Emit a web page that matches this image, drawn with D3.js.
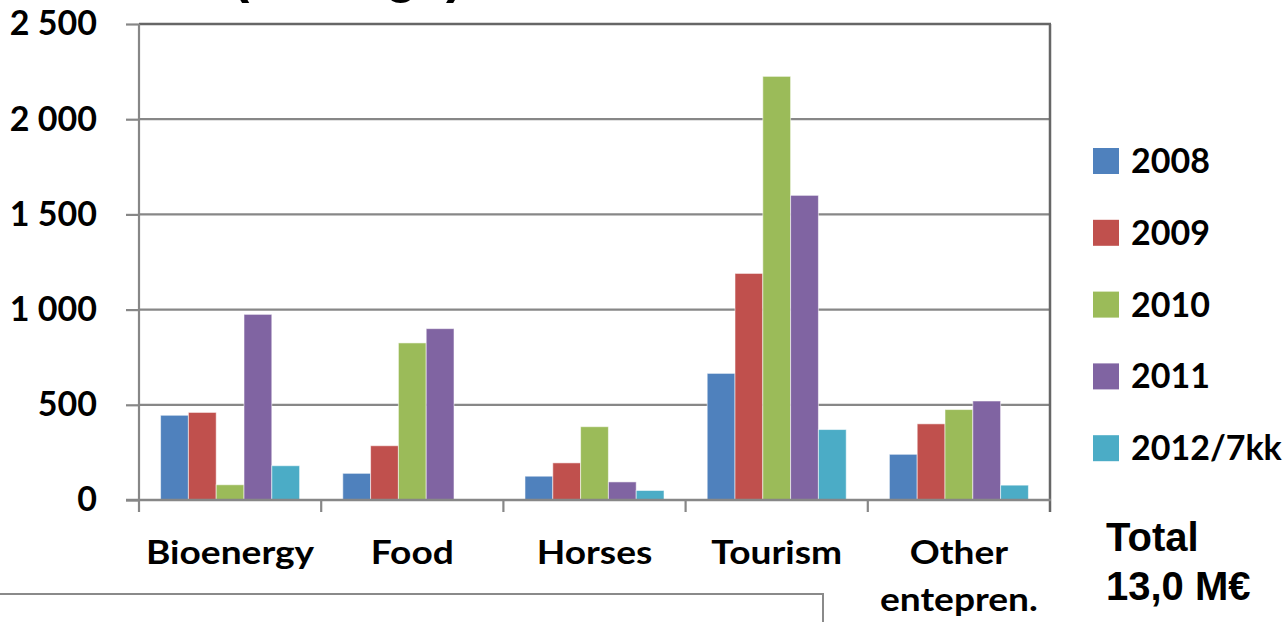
<!DOCTYPE html>
<html><head><meta charset="utf-8">
<script src="https://cdn.jsdelivr.net/npm/d3@7"></script>
<style>body{margin:0;background:#fff;} svg{display:block}</style>
</head><body>
<svg id="c" width="1286" height="622"></svg>
<script>
const categories = ["Bioenergy","Food","Horses","Tourism","Other entepren."];
const categoryLines = [["Bioenergy"],["Food"],["Horses"],["Tourism"],["Other","entepren."]];
const seriesNames = ["2008","2009","2010","2011","2012/7kk"];
const v2008 = [445,140,125,665,240];
const v2009 = [460,285,195,1190,400];
const v2010 = [80,825,385,2225,475];
const v2011 = [975,900,95,1600,520];
const v2012 = [180,0,50,370,78];
const yTicks = [0,500,1000,1500,2000,2500];
const yTickLabels = ["0","500","1 000","1 500","2 000","2 500"];
const colors = ["#4F81BD","#C0504D","#9BBB59","#8064A2","#4BACC6"];
const totalLines = ["Total","13,0 M€"];
const titleText = "(average)";

const seriesValues = [v2008,v2009,v2010,v2011,v2012];
const svg = d3.select("#c");
const L = 139, R = 1050, T = 24, B = 500;
const pIn = 0.237;
const x0 = d3.scaleBand().domain(categories).range([L,R]).paddingInner(pIn).paddingOuter(pIn/2);
const x1 = d3.scaleBand().domain(seriesNames).range([0,x0.bandwidth()]);
const y = d3.scaleLinear().domain([0,2500]).range([B,T]);
const color = d3.scaleOrdinal().domain(seriesNames).range(colors);
const grid = "#878787", dark = "#666666";
const calib = "Lato, 'Open Sans', sans-serif";

// title fragment (cut off at the top edge, as in the reference)
svg.append("text").attr("x",232).attr("y",-8)
  .style("font-family","'Liberation Sans', Arial, sans-serif").style("font-weight","bold").style("font-size","52px")
  .text(titleText);

// gridlines
svg.append("g").selectAll("line").data(yTicks.filter(t=>t>0&&t<2500)).join("line")
  .attr("x1",L).attr("x2",R).attr("y1",d=>y(d)).attr("y2",d=>y(d))
  .attr("stroke",grid).attr("stroke-width",2.2);
svg.append("line").attr("x1",L).attr("x2",R+1).attr("y1",y(2500)).attr("y2",y(2500)).attr("stroke",dark).attr("stroke-width",2.5);
svg.append("line").attr("x1",R).attr("x2",R).attr("y1",y(2500)).attr("y2",B+12).attr("stroke",dark).attr("stroke-width",2.5);

// y axis
const yAxis = d3.axisLeft(y).tickValues(yTicks).tickSize(13).tickPadding(29)
  .tickFormat((d,i)=>yTickLabels[i]);
const ga = svg.append("g").attr("transform",`translate(${L},0)`).call(yAxis);
ga.select(".domain").remove();
ga.selectAll(".tick line").attr("stroke",grid).attr("stroke-width",2.2);
ga.selectAll(".tick text").style("font-family",calib).style("font-weight","bold").style("font-size","34px").attr("fill","#000");
svg.append("line").attr("x1",L).attr("x2",L).attr("y1",T).attr("y2",B+12).attr("stroke",grid).attr("stroke-width",2.2);

// bars
const groups = svg.append("g").selectAll("g").data(categories).join("g")
  .attr("transform",d=>`translate(${x0(d)},0)`);
groups.selectAll("rect").data((c,ci)=>seriesNames.map((s,si)=>({s,v:seriesValues[si][ci]}))).join("rect")
  .filter(d=>d.v>0)
  .attr("x",d=>x1(d.s)).attr("width",x1.bandwidth())
  .attr("y",d=>y(d.v)).attr("height",d=>B-y(d.v))
  .attr("fill",d=>color(d.s)).attr("stroke","rgba(255,255,255,0.55)").attr("stroke-width",1);

// x axis baseline & boundary ticks
svg.append("line").attr("x1",L-13).attr("x2",R+1).attr("y1",B).attr("y2",B).attr("stroke",grid).attr("stroke-width",2.5);
const gap = (x0.step()-x0.bandwidth())/2;
const bounds = categories.map(c=>x0(c)-gap).concat([x0(categories[categories.length-1])+x0.bandwidth()+gap]);
svg.append("g").selectAll("line").data(bounds.slice(1,-1)).join("line")
  .attr("x1",d=>d).attr("x2",d=>d).attr("y1",B).attr("y2",B+12).attr("stroke",grid).attr("stroke-width",2.2);

// category labels
const cl = svg.append("g").selectAll("text").data(categories).join("text")
  .attr("transform",d=>`translate(${x0(d)+x0.bandwidth()/2},564) scale(1.16,1)`)
  .attr("text-anchor","middle")
  .style("font-family",calib).style("font-weight","bold").style("font-size","32px").attr("fill","#000");
cl.selectAll("tspan").data((d,i)=>categoryLines[i]).join("tspan")
  .attr("x",0).attr("y",(d,i)=>i*47).text(d=>d);

// legend
const lg = svg.append("g").selectAll("g").data(seriesNames).join("g")
  .attr("transform",(d,i)=>`translate(1093,${148+i*71.8})`);
lg.append("rect").attr("width",26).attr("height",26).attr("fill",d=>color(d));
lg.append("text").attr("x",38).attr("y",25)
  .style("font-family",calib).style("font-weight","bold").style("font-size","34px").attr("fill","#000")
  .text(d=>d);

// total
svg.append("g").selectAll("text").data(totalLines).join("text")
  .attr("x",1106).attr("y",(d,i)=>551+i*49)
  .style("font-family","'Liberation Sans', Arial, sans-serif").style("font-weight","bold").style("font-size","40px")
  .text(d=>d);

// bottom-left box fragment
svg.append("path").attr("d","M0,594H823V622").attr("fill","none").attr("stroke","#8a8a8a").attr("stroke-width",2);
</script>
</body></html>
